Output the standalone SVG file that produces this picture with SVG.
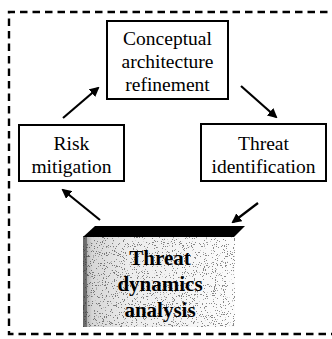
<svg xmlns="http://www.w3.org/2000/svg" width="332" height="339" viewBox="0 0 332 339">
<style>
.box{fill:#fff;stroke:#000;stroke-width:2}
.t{font-family:"Liberation Serif","Times New Roman",serif;font-size:19.5px;fill:#000;text-anchor:middle}
.tb{font-family:"Liberation Serif","Times New Roman",serif;font-size:21px;font-weight:bold;fill:#000;text-anchor:middle}
.arr{stroke:#000;stroke-width:2.2;fill:none;marker-end:url(#ah)}
.frame{fill:none;stroke:#000;stroke-width:2.4;stroke-dasharray:7.5 5}
</style>
<defs>
<marker id="ah" viewBox="0 0 10 10" refX="8" refY="5" markerWidth="4.5" markerHeight="4.5" orient="auto" markerUnits="strokeWidth">
<path d="M0,0 L10,5 L0,10 z" fill="#000"/>
</marker>
<linearGradient id="face" x1="0" y1="0" x2="1" y2="0">
<stop offset="0" stop-color="#9a9a9a"/>
<stop offset="0.06" stop-color="#d6d6d6"/>
<stop offset="0.3" stop-color="#ececec"/>
<stop offset="1" stop-color="#fcfcfc"/>
</linearGradient>
<filter id="speck" x="0" y="0" width="100%" height="100%">
<feTurbulence type="fractalNoise" baseFrequency="0.9" numOctaves="2" seed="7" result="t"/>
<feColorMatrix in="t" type="matrix" values="0 0 0 0 0  0 0 0 0 0  0 0 0 0 0  0 0 0 -30 10.8"/>
<feComposite operator="in" in2="SourceGraphic"/>
</filter>
</defs>
<path class="frame" d="M340 12 H9 V334 H340"/>
<g id="conceptual">
<rect class="box" x="107" y="21" width="121" height="78"/>
<text class="t" x="167.5" y="45">Conceptual</text>
<text class="t" x="167.5" y="68">architecture</text>
<text class="t" x="167.5" y="91">refinement</text>
</g>
<g id="risk">
<rect class="box" x="19" y="125" width="105" height="56"/>
<text class="t" x="71.5" y="150">Risk</text>
<text class="t" x="71.5" y="173">mitigation</text>
</g>
<g id="threat-id">
<rect class="box" x="201" y="124" width="125" height="57"/>
<text class="t" x="263.5" y="150">Threat</text>
<text class="t" x="263.5" y="173">identification</text>
</g>
<g id="dynamics">
<rect x="83" y="236" width="152" height="91" fill="url(#face)"/>
<rect x="83" y="236" width="152" height="91" fill="#000" filter="url(#speck)" opacity="0.45"/>
<rect x="83" y="236" width="4" height="91" fill="#444" opacity="0.6"/>
<path d="M83 237 L95 226 L245 226 L234 237 Z" fill="#000"/>
<text class="tb" x="160" y="265">Threat</text>
<text class="tb" x="160" y="291">dynamics</text>
<text class="tb" x="160" y="317">analysis</text>
</g>
<g id="connectors">
<line class="arr" x1="63" y1="118" x2="98" y2="88"/>
<line class="arr" x1="241" y1="86" x2="276" y2="117"/>
<line class="arr" x1="258" y1="203" x2="233" y2="222"/>
<line class="arr" x1="100" y1="220" x2="63" y2="190"/>
</g>
</svg>
